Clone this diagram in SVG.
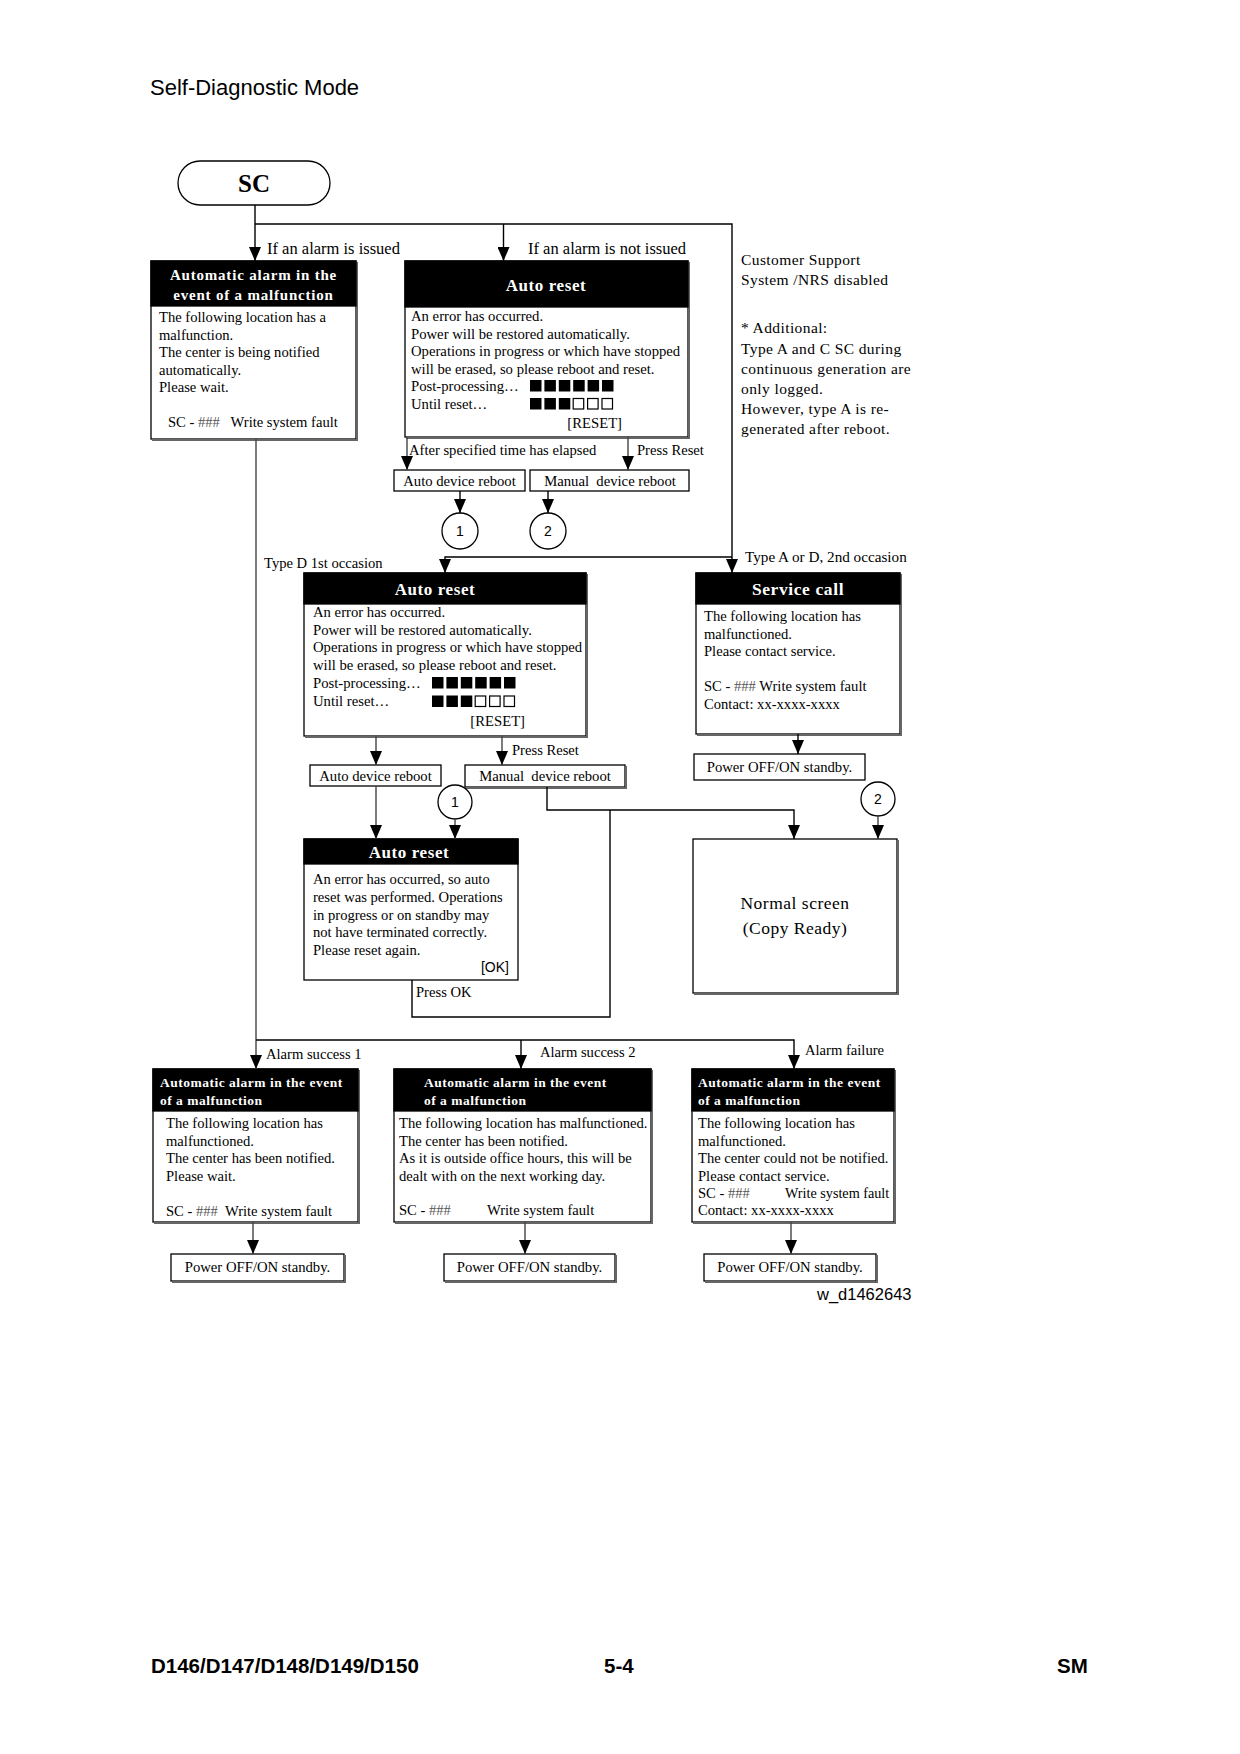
<svg xmlns="http://www.w3.org/2000/svg" width="1240" height="1754" viewBox="0 0 1240 1754">
<style>
text{font-family:"Liberation Serif","Times New Roman",serif;fill:#000}
.sans{font-family:"Liberation Sans",Arial,sans-serif}
.box{fill:#fff;stroke:#000;stroke-width:1.3}
.sh{fill:none;stroke:#666;stroke-width:2}
.hd{fill:#000;stroke:#000;stroke-width:1.3}
.ht{fill:#fff;font-weight:bold}
.b{font-size:14.7px}
.bs{font-size:14.6px}
.lb{font-size:16.5px}
.g{fill:#555}
.ln{fill:none;stroke:#000;stroke-width:1.4}
.lg{fill:none;stroke:#444;stroke-width:1.4}
.sq{fill:#000}
.sqo{fill:#fff;stroke:#000;stroke-width:1.2}
.c{font-size:14px}
</style>
<defs>
<marker id="ah" viewBox="0 0 14 12" refX="14" refY="6" markerWidth="14" markerHeight="12" markerUnits="userSpaceOnUse" orient="auto">
<path d="M0,0 L14,6 L0,12 z" fill="#000"/>
</marker>
</defs>

<text class="sans" x="150" y="95" font-size="22">Self-Diagnostic Mode</text>

<g id="sc">
<rect x="178" y="161" width="152" height="44" rx="22" ry="22" class="box"/>
<text x="254" y="192" font-size="25" font-weight="bold" text-anchor="middle">SC</text>
</g>

<g id="alarm-top">
<rect x="151" y="261" width="205" height="178" class="box"/>
<path d="M357,262 V440 H152" class="sh"/>
<rect x="151" y="261" width="205" height="45" class="hd"/>
<text class="ht" x="253.5" y="280" font-size="15" letter-spacing="0.8" text-anchor="middle">Automatic alarm in the</text>
<text class="ht" x="253.5" y="300" font-size="15" letter-spacing="0.8" text-anchor="middle">event of a malfunction</text>
<text class="bs" x="159" y="322">The following location has a</text>
<text class="bs" x="159" y="339.5">malfunction.</text>
<text class="bs" x="159" y="357">The center is being notified</text>
<text class="bs" x="159" y="374.5">automatically.</text>
<text class="bs" x="159" y="392">Please wait.</text>
<text class="bs" x="168" y="427" xml:space="preserve">SC - <tspan class="g">###</tspan>   Write system fault</text>
</g>

<g id="autoreset-1">
<rect x="405" y="261" width="283" height="176" class="box"/>
<path d="M689,262 V438 H406" class="sh"/>
<rect x="405" y="261" width="283" height="46" class="hd"/>
<text class="ht" x="546" y="291" font-size="17" letter-spacing="0.6" text-anchor="middle">Auto reset</text>
<text class="b" x="411" y="321">An error has occurred.</text>
<text class="b" x="411" y="338.5">Power will be restored automatically.</text>
<text class="b" x="411" y="356">Operations in progress or which have stopped</text>
<text class="b" x="411" y="373.5">will be erased, so please reboot and reset.</text>
<text class="b" x="411" y="391">Post-processing…</text>
<text class="b" x="411" y="409">Until reset…</text>
<text class="b" x="622" y="428" text-anchor="end">[RESET]</text>
<rect class="sq" x="530" y="380" width="11.5" height="11.5"/><rect class="sq" x="544.4" y="380" width="11.5" height="11.5"/><rect class="sq" x="558.8" y="380" width="11.5" height="11.5"/><rect class="sq" x="573.2" y="380" width="11.5" height="11.5"/><rect class="sq" x="587.6" y="380" width="11.5" height="11.5"/><rect class="sq" x="602" y="380" width="11.5" height="11.5"/>
<rect class="sq" x="530" y="398" width="11.5" height="11.5"/><rect class="sq" x="544.4" y="398" width="11.5" height="11.5"/><rect class="sq" x="558.8" y="398" width="11.5" height="11.5"/><rect class="sqo" x="573.2" y="398.5" width="10.5" height="10.5"/><rect class="sqo" x="587.6" y="398.5" width="10.5" height="10.5"/><rect class="sqo" x="602" y="398.5" width="10.5" height="10.5"/>
</g>

<g id="note">
<text x="741" y="265" font-size="15.5" letter-spacing="0.4">Customer Support</text>
<text x="741" y="285" font-size="15.5" letter-spacing="0.4">System /NRS disabled</text>
<text x="741" y="333" font-size="15.5" letter-spacing="0.4">* Additional:</text>
<text x="741" y="354" font-size="15.5" letter-spacing="0.4">Type A and C SC during</text>
<text x="741" y="374" font-size="15.5" letter-spacing="0.4">continuous generation are</text>
<text x="741" y="394" font-size="15.5" letter-spacing="0.4">only logged.</text>
<text x="741" y="414" font-size="15.5" letter-spacing="0.4">However, type A is re-</text>
<text x="741" y="434" font-size="15.5" letter-spacing="0.4">generated after reboot.</text>
</g>

<g id="auto-reboot-1">
<rect x="394" y="470" width="131" height="21" class="box"/>
<text class="b" x="459.5" y="485.5" text-anchor="middle">Auto device reboot</text>
</g>
<g id="manual-reboot-1">
<rect x="530" y="470" width="159" height="21" class="box"/>
<text class="b" x="610" y="485.5" text-anchor="middle" xml:space="preserve">Manual  device reboot</text>
</g>
<g id="circle-1a">
<circle cx="460" cy="531" r="18" fill="#fff" stroke="#000" stroke-width="1.3"/>
<text class="sans c" x="460" y="536" text-anchor="middle">1</text>
</g>
<g id="circle-2a">
<circle cx="548" cy="531" r="18" fill="#fff" stroke="#000" stroke-width="1.3"/>
<text class="sans c" x="548" y="536" text-anchor="middle">2</text>
</g>

<g id="autoreset-2">
<rect x="304" y="573" width="282" height="163" class="box"/>
<path d="M587,574 V737 H305" class="sh"/>
<rect x="304" y="573" width="282" height="31" class="hd"/>
<text class="ht" x="435" y="595" font-size="17" letter-spacing="0.6" text-anchor="middle">Auto reset</text>
<text class="b" x="313" y="617">An error has occurred.</text>
<text class="b" x="313" y="634.5">Power will be restored automatically.</text>
<text class="b" x="313" y="652">Operations in progress or which have stopped</text>
<text class="b" x="313" y="669.5">will be erased, so please reboot and reset.</text>
<text class="b" x="313" y="688">Post-processing…</text>
<text class="b" x="313" y="706">Until reset…</text>
<text class="b" x="525" y="726" text-anchor="end">[RESET]</text>
<rect class="sq" x="432" y="677" width="11.5" height="11.5"/><rect class="sq" x="446.4" y="677" width="11.5" height="11.5"/><rect class="sq" x="460.8" y="677" width="11.5" height="11.5"/><rect class="sq" x="475.2" y="677" width="11.5" height="11.5"/><rect class="sq" x="489.6" y="677" width="11.5" height="11.5"/><rect class="sq" x="504" y="677" width="11.5" height="11.5"/>
<rect class="sq" x="432" y="695.5" width="11.5" height="11.5"/><rect class="sq" x="446.4" y="695.5" width="11.5" height="11.5"/><rect class="sq" x="460.8" y="695.5" width="11.5" height="11.5"/><rect class="sqo" x="475.2" y="696" width="10.5" height="10.5"/><rect class="sqo" x="489.6" y="696" width="10.5" height="10.5"/><rect class="sqo" x="504" y="696" width="10.5" height="10.5"/>
</g>

<g id="service-call">
<rect x="696" y="573" width="204" height="161" class="box"/>
<path d="M901,574 V735 H697" class="sh"/>
<rect x="696" y="573" width="204" height="31" class="hd"/>
<text class="ht" x="798" y="595" font-size="17.5" letter-spacing="0.6" text-anchor="middle">Service call</text>
<text class="bs" x="704" y="621">The following location has</text>
<text class="bs" x="704" y="639">malfunctioned.</text>
<text class="bs" x="704" y="656">Please contact service.</text>
<text class="bs" x="704" y="691">SC - <tspan class="g">###</tspan> Write system fault</text>
<text class="bs" x="704" y="709">Contact: xx-xxxx-xxxx</text>
</g>

<g id="power-sc">
<rect x="694" y="754" width="171" height="26" class="box"/>
<text class="b" x="779.5" y="772" text-anchor="middle">Power OFF/ON standby.</text>
</g>

<g id="auto-reboot-2">
<rect x="310" y="765" width="131" height="21" class="box"/>
<text class="b" x="375.5" y="780.5" text-anchor="middle">Auto device reboot</text>
</g>
<g id="manual-reboot-2">
<rect x="465" y="765" width="160" height="22" class="box"/>
<path d="M626,766 V788 H466" class="sh"/>
<text class="b" x="545" y="781" text-anchor="middle" xml:space="preserve">Manual  device reboot</text>
</g>
<g id="circle-1b">
<circle cx="455" cy="802" r="17" fill="#fff" stroke="#000" stroke-width="1.3"/>
<text class="sans c" x="455" y="807" text-anchor="middle">1</text>
</g>
<g id="circle-2b">
<circle cx="878" cy="799" r="17" fill="#fff" stroke="#000" stroke-width="1.3"/>
<text class="sans c" x="878" y="804" text-anchor="middle">2</text>
</g>

<g id="autoreset-3">
<rect x="304" y="839" width="214" height="141" class="box"/>
<rect x="304" y="839" width="214" height="25" class="hd"/>
<text class="ht" x="409" y="858" font-size="17" letter-spacing="0.6" text-anchor="middle">Auto reset</text>
<text class="bs" x="313" y="884">An error has occurred, so auto</text>
<text class="bs" x="313" y="902">reset was performed. Operations</text>
<text class="bs" x="313" y="919.5">in progress or on standby may</text>
<text class="bs" x="313" y="937">not have terminated correctly.</text>
<text class="bs" x="313" y="955">Please reset again.</text>
<text class="sans" x="509" y="972" font-size="14" text-anchor="end">[OK]</text>
</g>

<g id="normal-screen">
<rect x="693" y="839" width="204" height="154" class="box"/>
<path d="M898,840 V994 H694" class="sh"/>
<text x="795" y="909" font-size="17.5" letter-spacing="0.5" text-anchor="middle">Normal screen</text>
<text x="795" y="934" font-size="17.5" letter-spacing="0.5" text-anchor="middle">(Copy Ready)</text>
</g>

<g id="alarm-1">
<rect x="153" y="1069" width="205" height="153" class="box"/>
<path d="M359,1070 V1223 H154" class="sh"/>
<rect x="153" y="1069" width="205" height="42" class="hd"/>
<text class="ht" x="160" y="1087" font-size="13.5" letter-spacing="0.5">Automatic alarm in the event</text>
<text class="ht" x="160" y="1105" font-size="13.5" letter-spacing="0.5">of a malfunction</text>
<text class="bs" x="166" y="1128">The following location has</text>
<text class="bs" x="166" y="1146">malfunctioned.</text>
<text class="bs" x="166" y="1163">The center has been notified.</text>
<text class="bs" x="166" y="1181">Please wait.</text>
<text class="bs" x="166" y="1216" xml:space="preserve">SC - <tspan class="g">###</tspan>  Write system fault</text>
</g>

<g id="alarm-2">
<rect x="394" y="1069" width="257" height="153" class="box"/>
<path d="M652,1070 V1223 H395" class="sh"/>
<rect x="394" y="1069" width="257" height="42" class="hd"/>
<text class="ht" x="424" y="1087" font-size="13.5" letter-spacing="0.5">Automatic alarm in the event</text>
<text class="ht" x="424" y="1105" font-size="13.5" letter-spacing="0.5">of a malfunction</text>
<text class="bs" x="399" y="1128">The following location has malfunctioned.</text>
<text class="bs" x="399" y="1146">The center has been notified.</text>
<text class="bs" x="399" y="1163">As it is outside office hours, this will be</text>
<text class="bs" x="399" y="1181">dealt with on the next working day.</text>
<text class="bs" x="399" y="1215">SC - <tspan class="g">###</tspan></text>
<text class="bs" x="487" y="1215">Write system fault</text>
</g>

<g id="alarm-3">
<rect x="692" y="1069" width="202" height="153" class="box"/>
<path d="M895,1070 V1223 H693" class="sh"/>
<rect x="692" y="1069" width="202" height="42" class="hd"/>
<text class="ht" x="698" y="1087" font-size="13.5" letter-spacing="0.5">Automatic alarm in the event</text>
<text class="ht" x="698" y="1105" font-size="13.5" letter-spacing="0.5">of a malfunction</text>
<text class="bs" x="698" y="1128">The following location has</text>
<text class="bs" x="698" y="1146">malfunctioned.</text>
<text class="bs" x="698" y="1163">The center could not be notified.</text>
<text class="bs" x="698" y="1181">Please contact service.</text>
<text class="bs" x="698" y="1198">SC - <tspan class="g">###</tspan></text>
<text x="785" y="1198" font-size="14.2">Write system fault</text>
<text class="bs" x="698" y="1215">Contact: xx-xxxx-xxxx</text>
</g>

<g id="power-1">
<rect x="171" y="1254" width="173" height="27" class="box"/>
<path d="M345,1255 V1282 H172" class="sh"/>
<text class="b" x="257.5" y="1272" text-anchor="middle">Power OFF/ON standby.</text>
</g>
<g id="power-2">
<rect x="444" y="1254" width="171" height="27" class="box"/>
<path d="M616,1255 V1282 H445" class="sh"/>
<text class="b" x="529.5" y="1272" text-anchor="middle">Power OFF/ON standby.</text>
</g>
<g id="power-3">
<rect x="704" y="1254" width="172" height="27" class="box"/>
<path d="M877,1255 V1282 H705" class="sh"/>
<text class="b" x="790" y="1272" text-anchor="middle">Power OFF/ON standby.</text>
</g>

<g id="connectors">
<path class="ln" d="M255,205 V261" marker-end="url(#ah)"/>
<path class="ln" d="M255,224 H732 V573" marker-end="url(#ah)"/>
<path class="ln" d="M503.5,224 V261" marker-end="url(#ah)"/>
<path class="lg" d="M407,437 V470" marker-end="url(#ah)"/>
<path class="lg" d="M628,437 V470" marker-end="url(#ah)"/>
<path class="ln" d="M460,491 V513" marker-end="url(#ah)"/>
<path class="ln" d="M548,491 V513" marker-end="url(#ah)"/>
<path class="ln" d="M732,557 H445 V573" marker-end="url(#ah)"/>
<path class="lg" d="M256,439 V1069" marker-end="url(#ah)"/>
<path class="ln" d="M256,1040 H794 V1069" marker-end="url(#ah)"/>
<path class="ln" d="M521,1040 V1069" marker-end="url(#ah)"/>
<path class="ln" d="M798,734 V754" marker-end="url(#ah)"/>
<path class="lg" d="M376,736 V765" marker-end="url(#ah)"/>
<path class="lg" d="M502,736 V765" marker-end="url(#ah)"/>
<path class="lg" d="M376,786 V839" marker-end="url(#ah)"/>
<path class="lg" d="M455,819 V839" marker-end="url(#ah)"/>
<path class="ln" d="M547,787 V810 H794 V839" marker-end="url(#ah)"/>
<path class="ln" d="M610,810 V1017 H412 V980"/>
<path class="lg" d="M878,816 V839" marker-end="url(#ah)"/>
<path class="lg" d="M253,1222 V1254" marker-end="url(#ah)"/>
<path class="lg" d="M525,1222 V1254" marker-end="url(#ah)"/>
<path class="lg" d="M791,1222 V1254" marker-end="url(#ah)"/>
<text class="lb" x="267" y="254">If an alarm is issued</text>
<text class="lb" x="528" y="254">If an alarm is not issued</text>
<text class="bs" x="409" y="455">After specified time has elapsed</text>
<text class="bs" x="637" y="455">Press Reset</text>
<text class="bs" x="264" y="568">Type D 1st occasion</text>
<text x="745" y="562" font-size="15.2">Type A or D, 2nd occasion</text>
<text class="bs" x="512" y="755">Press Reset</text>
<text class="bs" x="416" y="997">Press OK</text>
<text class="bs" x="266" y="1059">Alarm success 1</text>
<text class="bs" x="540" y="1057">Alarm success 2</text>
<text class="bs" x="805" y="1055">Alarm failure</text>
</g>

<text class="sans" x="817" y="1300" font-size="16.5">w_d1462643</text>
<text class="sans" x="151" y="1673" font-size="20.5" font-weight="bold">D146/D147/D148/D149/D150</text>
<text class="sans" x="604" y="1673" font-size="20.5" font-weight="bold">5-4</text>
<text class="sans" x="1057" y="1673" font-size="20.5" font-weight="bold">SM</text>
</svg>
